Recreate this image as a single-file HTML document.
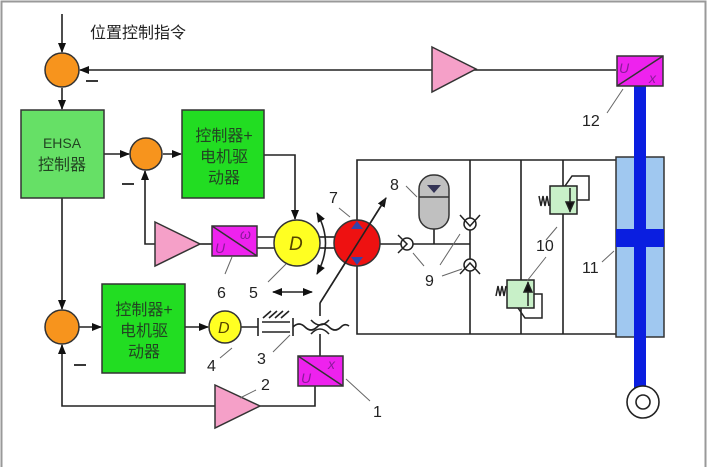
<!DOCTYPE html>
<html><head><meta charset="utf-8"><style>
html,body{margin:0;padding:0;background:#fff}
svg{display:block}
text{font-family:"Liberation Sans","Noto Sans CJK SC",sans-serif}
</style></head><body>
<svg width="709" height="467" viewBox="0 0 709 467" xmlns="http://www.w3.org/2000/svg">
<defs>
<marker id="a" markerWidth="10" markerHeight="10" refX="9" refY="5" orient="auto" markerUnits="userSpaceOnUse"><path d="M0,1 L10,5 L0,9 z" fill="#111"/></marker>
<marker id="as" markerWidth="10" markerHeight="10" refX="1" refY="5" orient="auto" markerUnits="userSpaceOnUse"><path d="M10,1 L0,5 L10,9 z" fill="#111"/></marker>
</defs>
<rect x="0" y="0" width="709" height="467" fill="#fff"/>
<rect x="1.5" y="1.5" width="704" height="470" fill="none" stroke="#999" stroke-width="2"/>
<g stroke="#222" stroke-width="1.6" fill="none">
<line x1="62" y1="14" x2="62" y2="52" marker-end="url(#a)"/>
<line x1="62" y1="88" x2="62" y2="109" marker-end="url(#a)"/>
<line x1="616" y1="70" x2="80" y2="70" marker-end="url(#a)"/>
<line x1="104" y1="154" x2="129" y2="154" marker-end="url(#a)"/>
<line x1="163" y1="154" x2="181" y2="154" marker-end="url(#a)"/>
<polyline points="155,244 145,244 145,171" marker-end="url(#a)"/>
<line x1="200" y1="244" x2="212" y2="244"/>
<polyline points="264,155 295,155 295,219" marker-end="url(#a)"/>
<line x1="257" y1="237" x2="275" y2="237"/><line x1="257" y1="248" x2="275" y2="248"/>
<line x1="319" y1="237" x2="335" y2="237"/><line x1="319" y1="248" x2="335" y2="248"/>
<line x1="62" y1="198" x2="62" y2="309" marker-end="url(#a)"/>
<line x1="79" y1="327" x2="101" y2="327" marker-end="url(#a)"/>
<line x1="185" y1="327" x2="208" y2="327" marker-end="url(#a)"/>
<polyline points="215,406 62,406 62,345" marker-end="url(#a)"/>
<polyline points="260,406 315,406 315,386"/>
<line x1="241" y1="327" x2="258" y2="327"/>
<line x1="258" y1="318" x2="258" y2="336"/><line x1="293" y1="318" x2="293" y2="336"/>
<line x1="262" y1="322" x2="290" y2="322"/><line x1="262" y1="332" x2="290" y2="332"/>
<line x1="263" y1="318" x2="271" y2="311"/><line x1="269" y1="318" x2="277" y2="311"/><line x1="275" y1="318" x2="283" y2="311"/><line x1="281" y1="318" x2="289" y2="311"/>
<path d="M293,327 q6,-6 12,0 q6,6 12,0 q6,-6 12,0 q6,6 12,0 q4,-4 8,-1"/>
<path d="M311,320 q9,10 18,0"/><path d="M311,334 q9,-10 18,0"/>
<line x1="320" y1="316" x2="320" y2="303"/>
<line x1="320" y1="334" x2="320" y2="356"/>
<line x1="320" y1="303" x2="386" y2="198" marker-end="url(#a)"/>
<line x1="273" y1="292" x2="312" y2="292" marker-end="url(#a)" marker-start="url(#as)"/>
<path d="M317,213 Q334,243 317,274" marker-end="url(#a)" marker-start="url(#as)"/>
<polyline points="357,220 357,160 616,160"/>
<polyline points="357,266 357,334 616,334"/>
<line x1="470" y1="160" x2="470" y2="334"/>
<line x1="521" y1="160" x2="521" y2="334"/>
<line x1="563" y1="160" x2="563" y2="334"/>
<line x1="380" y1="244" x2="470" y2="244"/>
<line x1="434" y1="228" x2="434" y2="244"/>
</g>
<g stroke="#222" stroke-width="1.5" fill="#fff">
<circle cx="407" cy="244" r="6"/><path d="M398,235 L407,244 L398,253" fill="none"/>
<circle cx="470" cy="224" r="6"/><path d="M460,215 L470,226 L480,215" fill="none"/>
<circle cx="470" cy="265" r="6"/><path d="M460,274 L470,263 L480,274" fill="none"/>
</g>
<rect x="419" y="175" width="30" height="54" rx="14" fill="#c0c0c0" stroke="#333" stroke-width="1.5"/>
<line x1="419" y1="197" x2="449" y2="197" stroke="#333" stroke-width="1.5"/>
<path d="M427,185 L441,185 L434,193 z" fill="#335"/>
<g stroke="#222" stroke-width="1.5">
<polyline points="565,186 572,176 589,176 589,200 577,200" fill="none"/>
<rect x="550" y="186" width="27" height="28" fill="#c8f0c8"/>
<line x1="570" y1="188" x2="570" y2="212"/><path d="M566,202 L574,202 L570,211 z" fill="#111"/>
<path d="M539,196 l2,10 l2,-10 l2,10 l2,-10 l2,10" fill="none"/>
<polyline points="518,308 525,318 542,318 542,294 534,294" fill="none"/>
<rect x="507" y="280" width="27" height="28" fill="#c8f0c8"/>
<line x1="528" y1="282" x2="528" y2="306"/><path d="M524,292 L532,292 L528,283 z" fill="#111"/>
<path d="M496,296 l2,-10 l2,10 l2,-10 l2,10 l2,-10" fill="none"/>
</g>
<rect x="616" y="157" width="48" height="180" fill="#a0c8f0" stroke="#333" stroke-width="1.5"/>
<rect x="634" y="86" width="12" height="304" fill="#0a1ee0"/>
<rect x="616" y="229" width="48" height="18" fill="#0a1ee0"/>
<circle cx="643" cy="402" r="16" fill="#fff" stroke="#222" stroke-width="1.6"/>
<circle cx="643" cy="402" r="7" fill="#fff" stroke="#222" stroke-width="1.6"/>
<g fill="#f7941d" stroke="#333" stroke-width="1.5">
<circle cx="62" cy="70" r="17"/><circle cx="146" cy="154" r="16"/><circle cx="62" cy="327" r="17"/>
</g>
<rect x="21" y="110" width="83" height="88" fill="#66e066" stroke="#333" stroke-width="1.5"/>
<rect x="182" y="110" width="82" height="88" fill="#22dd22" stroke="#333" stroke-width="1.5"/>
<rect x="102" y="284" width="83" height="89" fill="#22dd22" stroke="#333" stroke-width="1.5"/>
<g font-size="16" fill="#224422" text-anchor="middle">
<text x="62" y="148" font-size="14">EHSA</text><text x="62" y="170">控制器</text>
<text x="224" y="141">控制器+</text><text x="224" y="162">电机驱</text><text x="224" y="183">动器</text>
<text x="144" y="315">控制器+</text><text x="144" y="336">电机驱</text><text x="144" y="357">动器</text>
</g>
<g fill="#f5a0c8" stroke="#333" stroke-width="1.5">
<path d="M432,47 L476,69 L432,92 z"/>
<path d="M155,222 L200,244 L155,266 z"/>
<path d="M215,385 L260,406 L215,428 z"/>
</g>
<g stroke="#333" stroke-width="1.5" fill="#ee22ee">
<rect x="617" y="56" width="46" height="30"/><line x1="617" y1="86" x2="663" y2="56"/>
<rect x="212" y="226" width="45" height="30"/><line x1="212" y1="226" x2="257" y2="256"/>
<rect x="298" y="356" width="45" height="30"/><line x1="298" y1="356" x2="343" y2="386"/>
</g>
<g font-family="Liberation Serif" font-style="italic" font-size="14" fill="#8a1a9a">
<text x="619" y="73">U</text><text x="649" y="83">x</text>
<text x="215" y="253">U</text><text x="240" y="239">ω</text>
<text x="301" y="383">U</text><text x="328" y="369">x</text>
</g>
<circle cx="297" cy="243" r="23" fill="#ffff22" stroke="#333" stroke-width="1.5"/>
<circle cx="225" cy="327" r="16" fill="#ffff22" stroke="#333" stroke-width="1.5"/>
<g font-family="Liberation Serif" font-style="italic" fill="#554400"><text x="289" y="250" font-size="19">D</text><text x="218" y="333" font-size="16">D</text></g>
<circle cx="357" cy="243" r="23" fill="#ee1111" stroke="#333" stroke-width="1.5"/>
<path d="M351,229 L363,229 L357,221 z" fill="#3344aa"/>
<path d="M351,257 L363,257 L357,265 z" fill="#3344aa"/>
<line x1="320" y1="303" x2="386" y2="198" stroke="#222" stroke-width="1.6"/>
<g stroke="#222" stroke-width="1.8"><line x1="86" y1="81" x2="98" y2="81"/><line x1="122" y1="184" x2="134" y2="184"/><line x1="74" y1="365" x2="86" y2="365"/></g>
<g stroke="#666" stroke-width="1">
<line x1="623" y1="89" x2="607" y2="113"/><line x1="232" y1="257" x2="225" y2="274"/><line x1="286" y1="264" x2="268" y2="282"/>
<line x1="339" y1="208" x2="350" y2="217"/><line x1="406" y1="186" x2="417" y2="197"/>
<line x1="413" y1="253" x2="424" y2="266"/><line x1="460" y1="234" x2="440" y2="265"/><line x1="442" y1="276" x2="462" y2="269"/>
<line x1="546" y1="240" x2="557" y2="227"/><line x1="546" y1="257" x2="527" y2="281"/><line x1="602" y1="262" x2="614" y2="251"/>
<line x1="232" y1="348" x2="220" y2="358"/><line x1="290" y1="335" x2="273" y2="352"/><line x1="256" y1="390" x2="240" y2="398"/><line x1="346" y1="379" x2="370" y2="401"/>
</g>
<g font-size="16" fill="#222">
<text x="90" y="38" font-size="16">位置控制指令</text>
<text x="582" y="126">12</text><text x="217" y="298">6</text><text x="249" y="298">5</text><text x="329" y="203">7</text>
<text x="390" y="190">8</text><text x="425" y="286">9</text><text x="536" y="251">10</text><text x="582" y="273">11</text>
<text x="207" y="371">4</text><text x="257" y="364">3</text><text x="261" y="390">2</text><text x="373" y="417">1</text>
</g>
</svg>
</body></html>
